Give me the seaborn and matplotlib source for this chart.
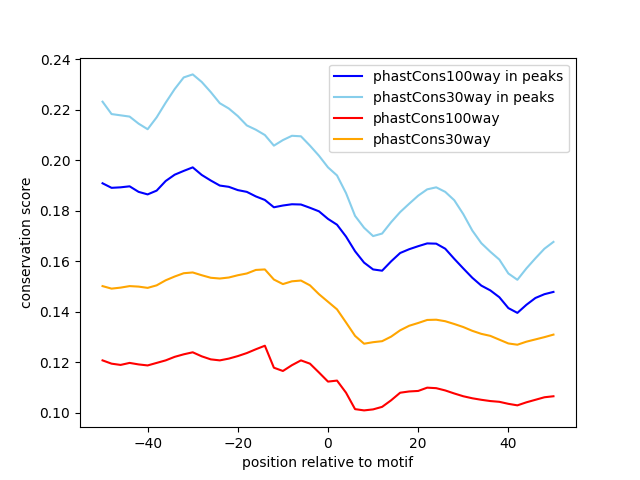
import numpy as np
import pandas as pd
import matplotlib
matplotlib.use("Agg")
import matplotlib.pyplot as plt
import seaborn as sns

position = list(range(-50, 51, 2))

cons100_peaks = [0.1909, 0.1891, 0.1893, 0.1897, 0.1875, 0.1865, 0.1880, 0.1918, 0.1943, 0.1958,
                 0.1972, 0.1942, 0.1920, 0.1900, 0.1895, 0.1882, 0.1875, 0.1857, 0.1843, 0.1814,
                 0.1821, 0.1826, 0.1825, 0.1812, 0.1798, 0.1768, 0.1745, 0.1698, 0.1640, 0.1595,
                 0.1568, 0.1563, 0.1600, 0.1633, 0.1648, 0.1660, 0.1671, 0.1670, 0.1650, 0.1610,
                 0.1572, 0.1535, 0.1504, 0.1485, 0.1458, 0.1415, 0.1396, 0.1428, 0.1455, 0.1470,
                 0.1479]

cons30_peaks = [0.2232, 0.2183, 0.2178, 0.2173, 0.2145, 0.2123, 0.2170, 0.2228, 0.2282, 0.2328,
                0.2340, 0.2310, 0.2270, 0.2226, 0.2205, 0.2175, 0.2138, 0.2121, 0.2100, 0.2058,
                0.2080, 0.2097, 0.2095, 0.2058, 0.2018, 0.1972, 0.1940, 0.1870, 0.1780, 0.1733,
                0.1700, 0.1710, 0.1755, 0.1795, 0.1828, 0.1860, 0.1885, 0.1893, 0.1875, 0.1842,
                0.1787, 0.1722, 0.1672, 0.1638, 0.1607, 0.1552, 0.1527, 0.1572, 0.1612, 0.1650,
                0.1677]

cons100 = [0.1208, 0.1195, 0.1190, 0.1198, 0.1192, 0.1188, 0.1198, 0.1208, 0.1222, 0.1232,
           0.1240, 0.1224, 0.1212, 0.1208, 0.1215, 0.1225, 0.1237, 0.1252, 0.1266, 0.1179,
           0.1166, 0.1189, 0.1208, 0.1195, 0.1160, 0.1124, 0.1128, 0.1080, 0.1015, 0.1010,
           0.1014, 0.1024, 0.1050, 0.1080, 0.1085, 0.1087, 0.1100, 0.1098, 0.1089, 0.1077,
           0.1066, 0.1058, 0.1052, 0.1047, 0.1044, 0.1036, 0.1030, 0.1042, 0.1052, 0.1062,
           0.1066]

cons30 = [0.1502, 0.1492, 0.1496, 0.1502, 0.1500, 0.1495, 0.1505, 0.1525, 0.1540, 0.1553,
          0.1556, 0.1545, 0.1535, 0.1532, 0.1536, 0.1545, 0.1552, 0.1566, 0.1568, 0.1528,
          0.1510, 0.1521, 0.1524, 0.1505, 0.1470, 0.1440, 0.1410, 0.1358, 0.1305, 0.1274,
          0.1280, 0.1284, 0.1302, 0.1327, 0.1345, 0.1356, 0.1368, 0.1369, 0.1363, 0.1352,
          0.1340, 0.1325, 0.1313, 0.1305, 0.1290, 0.1275, 0.1270, 0.1282, 0.1291, 0.1300,
          0.1310]

series = [
    ("phastCons100way in peaks", cons100_peaks, "blue"),
    ("phastCons30way in peaks", cons30_peaks, "skyblue"),
    ("phastCons100way", cons100, "red"),
    ("phastCons30way", cons30, "orange"),
]

fig, ax = plt.subplots(figsize=(6.4, 4.8), dpi=100)
for name, vals, col in series:
    df = pd.DataFrame({"position": position, "score": vals})
    sns.lineplot(data=df, x="position", y="score", color=col, label=name, ax=ax)

ax.set_xlabel("position relative to motif")
ax.set_ylabel("conservation score")
ax.legend(loc="upper right")
plt.savefig("out.png", dpi=100)
